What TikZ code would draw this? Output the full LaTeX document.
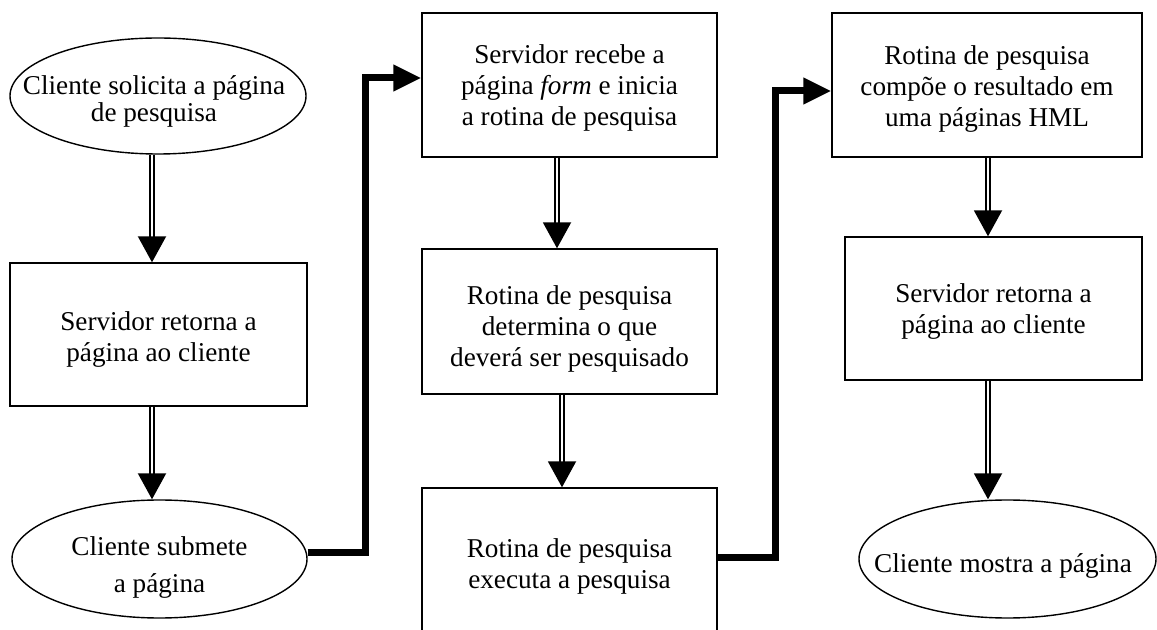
\documentclass[tikz,border=0pt]{standalone}
\usepackage{fontspec}
\setmainfont{Liberation Serif}
\usetikzlibrary{arrows.meta,shapes.geometric}
\begin{document}
\begin{tikzpicture}[x=0.5pt,y=-0.5pt,
  txt/.style={font=\fontsize{13.6pt}{15.5pt}\selectfont, align=center, inner sep=0pt},
  stepbox/.style={draw, rectangle, line width=0.7pt, inner sep=0pt},
  oval/.style={draw, ellipse, line width=0.7pt, inner sep=0pt},
  flow/.style={double, line width=1pt, double distance=0.8pt,
    -{Triangle[width=14pt,length=13pt]}},
  link/.style={line width=3.5pt, line join=miter,
    -{Triangle[width=12.5pt,length=14pt]}}]

\useasboundingbox (0,0) rectangle (1157,630);
\clip (0,0) rectangle (1157,630);

% left column
\node[oval, minimum width=148pt, minimum height=58pt] (e1) at (158,96) {};
\node[txt] (t1) at (154,101) {Cliente solicita a página\\[-2pt]de pesquisa};
\node[stepbox, minimum width=148.5pt, minimum height=71.5pt] (b1) at (158.5,334.5) {};
\node[txt] (t1b) at (158.5,340) {Servidor retorna a\\página ao cliente};
\node[oval, minimum width=147.5pt, minimum height=59pt] (e2) at (159.5,559) {};
\node[txt] (t2) at (159.5,567) {Cliente submete\\[3pt]a página};

% middle column
\node[stepbox, minimum width=147.5pt, minimum height=72pt] (b2) at (569.5,85) {};
\node[txt] (t2b) at (569.5,88) {Servidor recebe a\\página \textit{form}\ e inicia\\a rotina de pesquisa};
\node[stepbox, minimum width=147.5pt, minimum height=72.5pt] (b3) at (569.5,321.5) {};
\node[txt] (t3b) at (569.5,329) {Rotina de pesquisa\\determina o que\\deverá ser pesquisado};
\node[stepbox, minimum width=147.5pt, minimum height=77pt] (b4) at (569.5,565) {};
\node[txt] (t4b) at (569.5,566) {Rotina de pesquisa\\executa a pesquisa};

% right column
\node[stepbox, minimum width=155pt, minimum height=72pt] (b5) at (987,85) {};
\node[txt] (t5b) at (987,89) {Rotina de pesquisa\\compõe o resultado em\\uma páginas HML};
\node[stepbox, minimum width=148.5pt, minimum height=71.5pt] (b6) at (993.5,308.5) {};
\node[txt] (t6b) at (993.5,312) {Servidor retorna a\\página ao cliente};
\node[oval, minimum width=148.5pt, minimum height=59pt] (e3) at (1007.5,559) {};
\node[txt] (t3) at (1003,566) {Cliente mostra a página};

% guide coordinates for the connectors
\coordinate (xa) at (152,0);
\coordinate (xb) at (557,0);
\coordinate (xc) at (562,0);
\coordinate (xd) at (988,0);
\coordinate (xe) at (365,0);
\coordinate (xf) at (775,0);
\coordinate (ya) at (0,553);
\coordinate (yb) at (0,78);
\coordinate (yc) at (0,558);
\coordinate (yd) at (0,91);

% vertical flow arrows
\draw[flow] (e1.south -| xa) -- (b1.north -| xa);
\draw[flow] (b1.south -| xa) -- (e2.north -| xa);
\draw[flow] (b2.south -| xb) -- (b3.north -| xb);
\draw[flow] (b3.south -| xc) -- (b4.north -| xc);
\draw[flow] (b5.south -| xd) -- (b6.north -| xd);
\draw[flow] (b6.south -| xd) -- (e3.north -| xd);

% column-to-column links
\draw[link] (e2.east |- ya) -| (xe |- yb) -- (b2.west |- yb);
\draw[link] (b4.east |- yc) -| (xf |- yd) -- (b5.west |- yd);
\end{tikzpicture}
\end{document}
